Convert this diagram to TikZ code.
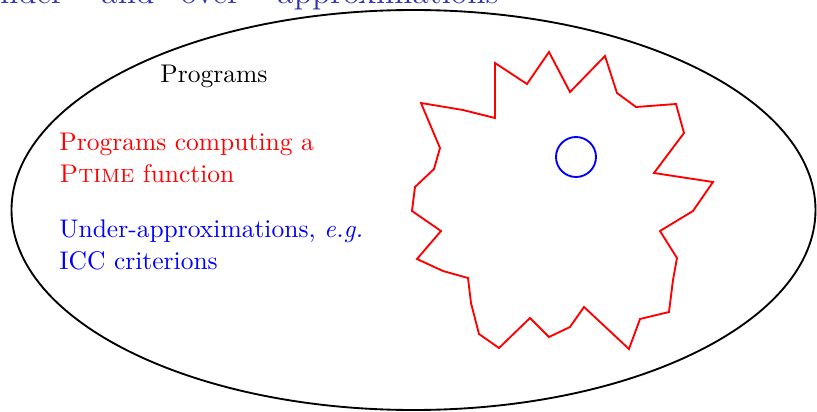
\documentclass[tikz,border=0pt]{standalone}
\definecolor{titleblue}{rgb}{0.2,0.2,0.7}
\begin{document}
\begin{tikzpicture}[
  x=0.4292pt, y=-0.4292pt,
  every node/.style={inner sep=0pt, font=\fontsize{10.95}{13.6}\selectfont},
  label text/.style={anchor=base west, align=left},
  region/.style={thick}
]
\useasboundingbox (0,0) rectangle (817,412);
% title, cut by the top of the frame
\node[anchor=base east, text=titleblue, font=\fontsize{14.4}{17}\selectfont] (title) at (499,3.5) {``Under-'' and ``over-'' approximations};
% all programs
\draw[region] (413.5,210) ellipse [x radius=402, y radius=200];
\node[label text] (progs) at (160,82) {Programs};
% programs computing a Ptime function
\draw[region, red] (421,103) -- (463,110) -- (495,118) -- (495,63) -- (527,84)
  -- (549,52) -- (570,92) -- (605,56) -- (617,93) -- (636,107) -- (676,104)
  -- (684,133) -- (654,173) -- (713,182) -- (693,211) -- (660,231) -- (677,258)
  -- (673,280) -- (669,312) -- (640,319) -- (629,349) -- (584,307) -- (570,327)
  -- (549,337) -- (530,318) -- (499,348) -- (479,334) -- (471,303) -- (468,278)
  -- (443,271) -- (417,259) -- (441,231) -- (412,211) -- (415,187) -- (434,169)
  -- (440,148) -- cycle;
\node[label text, text=red] (ptime) at (59,182) {Programs computing a\\\textsc{Ptime} function};
% under-approximations
\draw[region, blue] (576,157) circle [radius=20];
\node[label text, text=blue] (icc) at (59,269) {Under-approximations, \emph{e.g.}\\ICC criterions};
\end{tikzpicture}
\end{document}
